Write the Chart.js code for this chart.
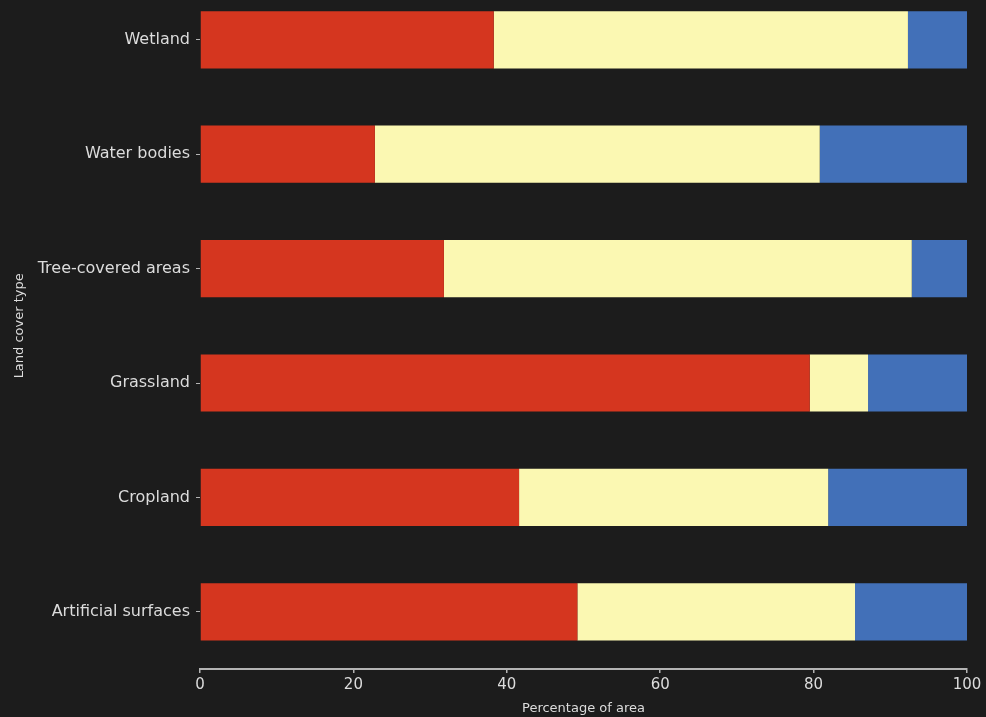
<!DOCTYPE html>
<html>
<head>
<meta charset="utf-8">
<script src="https://cdn.jsdelivr.net/npm/chart.js@4/dist/chart.umd.min.js"></script>
<style>
  html, body { margin: 0; padding: 0; background: #1c1c1c; overflow: hidden; }
  #wrap { position: absolute; left: 0; top: -33px; width: 986px; height: 750px; }
</style>
</head>
<body>
<div id="wrap"><canvas id="myChart"></canvas></div>
<script>
var landTypes = ["Wetland", "Water bodies", "Tree-covered areas", "Grassland", "Cropland", "Artificial surfaces"];
var redValues = [38.3, 22.8, 31.8, 79.5, 41.6, 49.2];
var yellowValues = [54.0, 58.0, 61.0, 7.6, 40.3, 36.2];
var blueValues = [7.7, 19.2, 7.2, 12.9, 18.1, 14.6];
var xTicks = [0, 20, 40, 60, 80, 100];

var barColors = ["#d5361f", "#fbf8b2", "#4270b8"];
var textColor = "#dcdcdc";
var axisColor = "#b4b4b4";

var chartContext = document.getElementById("myChart").getContext("2d");

var chart = new Chart(chartContext, {
  type: "bar",
  data: {
    labels: landTypes,
    datasets: [
      { data: redValues, backgroundColor: barColors[0] },
      { data: yellowValues, backgroundColor: barColors[1] },
      { data: blueValues, backgroundColor: barColors[2] },
    ],
  },
  options: {
    indexAxis: "y",
    responsive: true,
    maintainAspectRatio: false,
    animation: false,
    layout: { padding: { top: 8, right: 19, left: 0, bottom: 0 } },
    datasets: { bar: { categoryPercentage: 1, barPercentage: 0.5, borderWidth: 0 } },
    plugins: { legend: { display: false }, tooltip: { enabled: false } },
    scales: {
      x: {
        stacked: true,
        min: 0,
        max: 100,
        afterBuildTicks: function (scale) {
          scale.ticks = xTicks.map(function (v) { return { value: v }; });
        },
        afterFit: function (scale) { scale.height = 48; },
        border: { display: true, color: axisColor, width: 2 },
        grid: { drawOnChartArea: false, drawTicks: true, tickLength: 4, color: axisColor, lineWidth: 1.5 },
        ticks: { color: textColor, font: { family: "DejaVu Sans", size: 15 }, padding: 3, maxRotation: 0 },
        title: {
          display: true,
          text: "Percentage of area",
          color: textColor,
          font: { family: "DejaVu Sans", size: 13 },
          padding: { top: 0, bottom: 1 },
        },
      },
      y: {
        stacked: true,
        afterFit: function (scale) { scale.width = 200; },
        border: { display: false },
        grid: { offset: false, drawOnChartArea: false, drawTicks: true, tickLength: 4, color: axisColor },
        ticks: { color: textColor, font: { family: "DejaVu Sans", size: 16 }, padding: 6 },
        title: {
          display: true,
          text: "Land cover type",
          color: textColor,
          font: { family: "DejaVu Sans", size: 13 },
          padding: { top: 12, bottom: 0 },
        },
      },
    },
  },
});
</script>
</body>
</html>
